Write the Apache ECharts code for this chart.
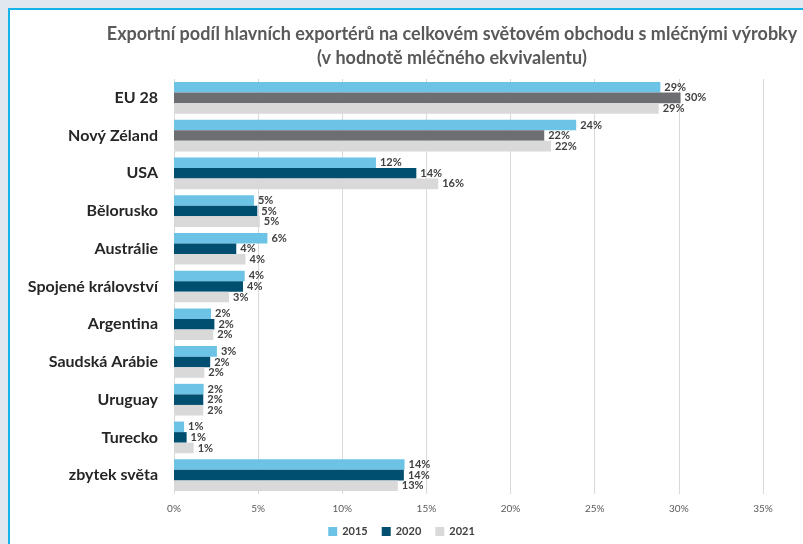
<!DOCTYPE html>
<html><head><meta charset="utf-8">
<script src="https://cdn.jsdelivr.net/npm/echarts@6/dist/echarts.min.js"></script>
<style>
html,body{margin:0;padding:0;background:#dfe9ef;}
#frame{position:absolute;left:8px;top:8px;width:803px;height:544px;border-left:2px solid #12b4ea;border-top:2px solid #12b4ea;background:#fff;}
#c{position:absolute;left:0;top:0;width:803px;height:544px;}
</style></head>
<body>
<div id="frame"></div>
<div id="c"></div>
<script>
const categories = ['EU 28','Nový Zéland','USA','Bělorusko','Austrálie','Spojené království','Argentina','Saudská Arábie','Uruguay','Turecko','zbytek světa'];
const v2015 = [28.9, 23.9, 12.0, 4.75, 5.55, 4.2, 2.2, 2.55, 1.76, 0.6, 13.7];
const v2020 = [30.1, 22.0, 14.4, 4.95, 3.7, 4.1, 2.4, 2.15, 1.74, 0.75, 13.66];
const v2021 = [28.8, 22.4, 15.7, 5.1, 4.25, 3.27, 2.33, 1.8, 1.74, 1.17, 13.3];
const xTicks = [0,5,10,15,20,25,30,35];
const seriesNames = ['2015','2020','2021'];
const colors = ['#6cc3e6','#004f71','#d9d9d9'];
const greyHighlight = [0,1]; // categories whose 2020 bar is drawn in grey

const FONT = 'Lato';
const chart = echarts.init(document.getElementById('c'), null, {renderer:'canvas'});
const lbl = {show:true, position:'right', distance:4, fontFamily:FONT, fontWeight:'bold', fontSize:11, color:'#404040', formatter: p => Math.round(p.value) + '%'};
const d2020 = v2020.map((v,i) => greyHighlight.includes(i) ? {value:v, itemStyle:{color:'#6d6e71'}} : v);
chart.setOption({
  backgroundColor:'transparent',
  animation:false,
  title:{
    text:'Exportní podíl hlavních exportérů na celkovém světovém obchodu s mléčnými výrobky\n(v hodnotě mléčného ekvivalentu)',
    left:447, top:17, textAlign:'center',
    textStyle:{fontFamily:FONT, fontWeight:'bold', fontSize:18, color:'#595959', lineHeight:24}
  },
  legend:{
    data:seriesNames, bottom:2, left:'center', itemWidth:9, itemHeight:9, itemGap:14,
    textStyle:{fontFamily:FONT, fontWeight:'bold', fontSize:11, color:'#404040'},
    icon:'rect'
  },
  grid:{left:174, right:40, top:79, bottom:50, containLabel:false},
  xAxis:{
    type:'value', min:0, max:35, interval:5,
    axisLabel:{formatter: v => v + '%', fontFamily:FONT, fontSize:10, color:'#595959', margin:10},
    splitLine:{lineStyle:{color:'#d9d9d9'}},
    axisLine:{show:false}, axisTick:{show:false}
  },
  yAxis:{
    type:'category', data:categories, inverse:true,
    axisLabel:{fontFamily:FONT, fontWeight:'bold', fontSize:16, color:'#262626', margin:16},
    axisLine:{show:false}, axisTick:{show:false}
  },
  series:[
    {name:'2015', type:'bar', data:v2015, itemStyle:{color:colors[0]}, barGap:'0%', barCategoryGap:'16%', label:lbl},
    {name:'2020', type:'bar', data:d2020, itemStyle:{color:colors[1]}, label:lbl},
    {name:'2021', type:'bar', data:v2021, itemStyle:{color:colors[2]}, label:lbl}
  ]
});
</script>
</body></html>
